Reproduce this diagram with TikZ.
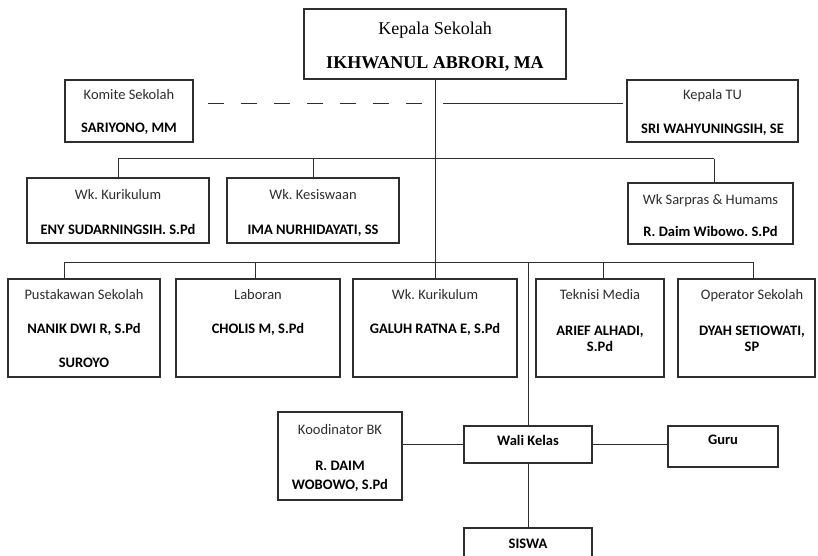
\documentclass[tikz,border=0pt]{standalone}
\usepackage{fontspec}
\setmainfont{Carlito}
\newfontfamily\tnr{Liberation Serif}
\frenchspacing
\definecolor{ink}{HTML}{2E2E2E}
\tikzset{
  box/.style={draw=ink, line width=1.1pt, inner sep=0pt, outer sep=0pt, anchor=north west, fill=white},
  conn/.style={draw=ink, line width=1pt},
  dashconn/.style={draw=ink, line width=1pt, dash pattern=on 16pt off 17pt},
  lbl/.style={inner sep=0pt, text height=0.7em, text depth=0.2em, text=ink, font=\fontsize{14.5}{17}\selectfont},
  nm/.style={inner sep=0pt, text height=0.7em, text depth=0.2em, text=black, font=\fontsize{14.5}{17}\selectfont\bfseries},
  toplbl/.style={inner sep=0pt, text height=0.7em, text depth=0.2em, text=black, font=\fontsize{18}{21}\selectfont\tnr},
  topnm/.style={inner sep=0pt, text height=0.7em, text depth=0.2em, text=black, font=\fontsize{18}{21}\selectfont\tnr\bfseries}
}
\begin{document}
\begin{tikzpicture}[x=1pt,y=-1pt]
\useasboundingbox (0,0) rectangle (818,556);
\clip (0,0) rectangle (818,556);
\fill[white] (0,0) rectangle (818,556);

% ---- connector coordinates
\coordinate (b2) at (0,159);
\coordinate (b3) at (0,262);
\coordinate (dA) at (208,104);
\coordinate (dB) at (423,104);
\coordinate (sA) at (443,104);
\coordinate (sB) at (623,104);
\coordinate (b2L) at (118,159);
\coordinate (b2R) at (714,159);
\coordinate (b3L) at (64,262);
\coordinate (b3R) at (753,262);

% ---- boxes
\node[box, minimum width=262pt, minimum height=70pt] (kepala) at (304,9) {};
\node[box, minimum width=128pt, minimum height=62pt] (komite) at (65,80) {};
\node[box, minimum width=171pt, minimum height=62pt] (tu) at (627,80) {};
\node[box, minimum width=182pt, minimum height=65pt] (wkkur) at (27,178) {};
\node[box, minimum width=172pt, minimum height=65pt] (wkkes) at (227,178) {};
\node[box, minimum width=165pt, minimum height=61pt] (sarpras) at (628,183) {};
\node[box, minimum width=152pt, minimum height=98pt] (pust) at (8,279) {};
\node[box, minimum width=164pt, minimum height=98pt] (lab) at (176,279) {};
\node[box, minimum width=164pt, minimum height=98pt] (galuh) at (353,279) {};
\node[box, minimum width=128pt, minimum height=98pt] (tek) at (536,279) {};
\node[box, minimum width=137pt, minimum height=98pt] (opr) at (678,279) {};
\node[box, minimum width=124pt, minimum height=88pt] (koord) at (278,412) {};
\node[box, minimum width=128pt, minimum height=37pt] (wali) at (464,426) {};
\node[box, minimum width=110pt, minimum height=41pt] (guru) at (668,426) {};
\node[box, minimum width=128pt, minimum height=40pt] (siswa) at (464,528) {};

% ---- connectors
\draw[conn] (kepala.south) -- (galuh.north);
\draw[dashconn] (dA) -- (dB);
\draw[conn] (sA) -- (sB);
\draw[conn] (b2L) -- (b2R);
\draw[conn] (b2L) -- (wkkur.north);
\draw[conn] (wkkes.north |- b2) -- (wkkes.north);
\draw[conn] (b2R) -- (b2R |- sarpras.north);
\draw[conn] (b3L) -- (b3R);
\draw[conn] (b3L) -- (b3L |- pust.north);
\draw[conn] (255,262) -- (255,279);
\draw[conn] (603,262) -- (603,279);
\draw[conn] (b3R) -- (b3R |- opr.north);
\draw[conn] (wali.north |- b3) -- (wali.north);
\draw[conn] (koord.east |- wali.west) -- (wali.west);
\draw[conn] (wali.east) -- (wali.east -| guru.west);
\draw[conn] (wali.south) -- (siswa.north);

% ---- texts
\node[toplbl] (t-kep1) at (435,32) {Kepala Sekolah};
\node[topnm] (t-kep2) at (435,66) {IKHWANUL ABRORI, MA};

\node[lbl] (t-kom1) at (129,97) {Komite Sekolah};
\node[nm] (t-kom2) at (129,130) {SARIYONO, MM};

\node[lbl] (t-tu1) at (712.5,97) {Kepala TU};
\node[nm] (t-tu2) at (712.5,131) {SRI WAHYUNINGSIH, SE};

\node[lbl] (t-wk1) at (118,197) {Wk. Kurikulum};
\node[nm] (t-wk2) at (118,232) {ENY SUDARNINGSIH. S.Pd};

\node[lbl] (t-ks1) at (313,197) {Wk. Kesiswaan};
\node[nm] (t-ks2) at (313,232) {IMA NURHIDAYATI, SS};

\node[lbl] (t-sp1) at (710.5,202) {Wk Sarpras \& Humams};
\node[nm] (t-sp2) at (710.5,234) {R. Daim Wibowo. S.Pd};

\node[lbl] (t-pu1) at (84,297) {Pustakawan Sekolah};
\node[nm] (t-pu2) at (84,331) {NANIK DWI R, S.Pd};
\node[nm] (t-pu3) at (84,365) {SUROYO};

\node[lbl] (t-la1) at (258,297) {Laboran};
\node[nm] (t-la2) at (258,331) {CHOLIS M, S.Pd};

\node[lbl] (t-ga1) at (435,297) {Wk. Kurikulum};
\node[nm] (t-ga2) at (435,331) {GALUH RATNA E, S.Pd};

\node[lbl] (t-te1) at (600,297) {Teknisi Media};
\node[nm] (t-te2) at (600,333) {ARIEF ALHADI,};
\node[nm] (t-te3) at (600,349) {S.Pd};

\node[lbl] (t-op1) at (752,297) {Operator Sekolah};
\node[nm] (t-op2) at (752,333) {DYAH SETIOWATI,};
\node[nm] (t-op3) at (752,349) {SP};

\node[lbl] (t-ko1) at (340,432) {Koodinator BK};
\node[nm] (t-ko2) at (340,468) {R. DAIM};
\node[nm] (t-ko3) at (340,487) {WOBOWO, S.Pd};

\node[nm] (t-wa) at (528,443) {Wali Kelas};
\node[nm] (t-gu) at (723,442) {Guru};
\node[nm] (t-si) at (528,546) {SISWA};
\end{tikzpicture}
\end{document}
